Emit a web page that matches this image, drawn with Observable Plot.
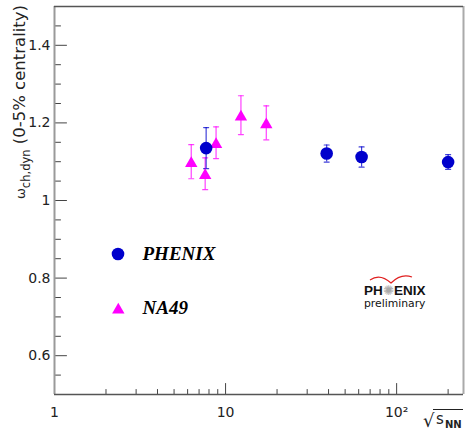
<!DOCTYPE html>
<html><head><meta charset="utf-8">
<script src="https://cdn.jsdelivr.net/npm/d3@7"></script>
<script src="https://cdn.jsdelivr.net/npm/@observablehq/plot@0.6"></script>
<style>body{margin:0;background:#fff} svg{display:block}</style>
</head><body><div id="chart"></div>
<script>
// ---- data ----
const phenixEnergy = [7.7, 39, 62.4, 200];
const phenixOmega  = [1.135, 1.121, 1.112, 1.099];
const phenixErr    = [0.053, 0.022, 0.026, 0.019];
const na49Energy = [6.3, 7.6, 8.8, 12.3, 17.3];
const na49Omega  = [1.100, 1.069, 1.149, 1.220, 1.200];
const na49Err    = [0.044, 0.041, 0.041, 0.050, 0.044];
const yMajorTicks = [0.6, 0.8, 1.0, 1.2, 1.4];
const yTickLabels = ["0.6", "0.8", "1", "1.2", "1.4"];
const yMinorTicks = [0.55, 0.65, 0.7, 0.75, 0.85, 0.9, 0.95, 1.05, 1.1, 1.15, 1.25, 1.3, 1.35, 1.45];
const xMajorTicks = [1, 10, 100];
const xTickLabels = ["1", "10", "10²"];
const xMinorTicks = [2, 3, 4, 5, 6, 7, 8, 9, 20, 30, 40, 50, 60, 70, 80, 90, 200];
const legendLabels = ["PHENIX", "NA49"];
const xDomain = [1, 246];
const yDomain = [0.5, 1.5];

const phenix = phenixEnergy.map((e, i) => ({e, w: phenixOmega[i], err: phenixErr[i]}));
const na49 = na49Energy.map((e, i) => ({e, w: na49Omega[i], err: na49Err[i]}));

const blue = "#0000cc", magenta = "#ff00ff";
const font = "DejaVu Sans";
const lineShape = {draw(ctx, l) { ctx.moveTo(0, 0); ctx.lineTo(0, -l); }};

function errorMarks(data, color) {
  return [
    Plot.ruleX(data, {x: "e", y1: d => d.w - d.err, y2: d => d.w + d.err, stroke: color, strokeWidth: 1.2, strokeOpacity: 0.75}),
    Plot.vector(data, {x: "e", y: d => d.w - d.err, length: 5, rotate: 90, anchor: "middle", shape: lineShape, stroke: color, strokeWidth: 1.2, strokeOpacity: 0.75}),
    Plot.vector(data, {x: "e", y: d => d.w + d.err, length: 5, rotate: 90, anchor: "middle", shape: lineShape, stroke: color, strokeWidth: 1.2, strokeOpacity: 0.75})
  ];
}

const plot = Plot.plot({
  width: 467, height: 437,
  marginLeft: 54, marginRight: 4, marginTop: 6, marginBottom: 43,
  style: {background: "#fff", overflow: "visible"},
  x: {type: "log", domain: xDomain, axis: null},
  y: {domain: yDomain, axis: null},
  marks: [
    // ticks (inward)
    Plot.vector(yMajorTicks, {frameAnchor: "left", y: d => d, length: 12, rotate: 90, anchor: "start", shape: lineShape, stroke: "#444", strokeWidth: 1}),
    Plot.vector(yMinorTicks, {frameAnchor: "left", y: d => d, length: 6, rotate: 90, anchor: "start", shape: lineShape, stroke: "#444", strokeWidth: 1}),
    Plot.vector(xMajorTicks, {frameAnchor: "bottom", x: d => d, length: 11, rotate: 0, anchor: "start", shape: lineShape, stroke: "#444", strokeWidth: 1}),
    Plot.vector(xMinorTicks, {frameAnchor: "bottom", x: d => d, length: 5, rotate: 0, anchor: "start", shape: lineShape, stroke: "#444", strokeWidth: 1}),
    // frame
    Plot.ruleX([xDomain[0]], {stroke: "#9a9a9a", strokeWidth: 2}),
    Plot.ruleX([xDomain[1]], {stroke: "#aaaaaa", strokeWidth: 2}),
    Plot.ruleY([yDomain[0]], {stroke: "#555", strokeWidth: 1.3}),
    Plot.ruleY([yDomain[1]], {stroke: "#555", strokeWidth: 1.3}),
    // tick labels
    Plot.text(yMajorTicks, {frameAnchor: "left", y: d => d, text: (d, i) => yTickLabels[i], dx: -4, textAnchor: "end", fontSize: 14, fontFamily: font, fill: "#222"}),
    Plot.text(xMajorTicks, {frameAnchor: "bottom", x: d => d, text: (d, i) => xTickLabels[i], dy: 22, lineAnchor: "bottom", textAnchor: "middle", fontSize: 14, fontFamily: font, fill: "#222"}),
    // data
    ...errorMarks(na49, magenta),
    ...errorMarks(phenix, blue),
    Plot.dot(na49, {x: "e", y: "w", symbol: "triangle", r: 4.6, dy: 1.8, fill: magenta, stroke: "none"}),
    Plot.dot(phenix, {x: "e", y: "w", r: 6.3, fill: blue, stroke: "none"}),
    // legend
    Plot.dot([0], {frameAnchor: "top-left", dx: 63.5, dy: 247.5, r: 6.3, fill: blue, stroke: "none"}),
    Plot.dot([0], {frameAnchor: "top-left", dx: 63.8, dy: 303.3, symbol: "triangle", r: 4.6, fill: magenta, stroke: "none"}),
    Plot.text([legendLabels[0]], {frameAnchor: "top-left", dx: 88, dy: 253.5, text: d => d, textAnchor: "start", lineAnchor: "bottom", fontSize: 19, fontFamily: "Liberation Serif", fontWeight: "bold", fontStyle: "italic", fill: "#000"}),
    Plot.text([legendLabels[1]], {frameAnchor: "top-left", dx: 88, dy: 307.5, text: d => d, textAnchor: "start", lineAnchor: "bottom", fontSize: 19, fontFamily: "Liberation Serif", fontWeight: "bold", fontStyle: "italic", fill: "#000"})
  ]
});

document.getElementById("chart").appendChild(plot);
const svg = d3.select(plot);

// y-axis title
const yt = svg.append("text").attr("transform", "translate(25,5) rotate(-90)")
  .attr("text-anchor", "end").attr("font-family", font).attr("fill", "#222");
yt.append("tspan").attr("font-size", 13).text("ω");
yt.append("tspan").attr("font-size", 11.5).attr("dy", 5).text("ch,dyn");
yt.append("tspan").attr("font-size", 16.5).attr("dy", -5).text(" (0-5% centrality)");

// x-axis title  √s_NN
const xt = svg.append("g").attr("font-family", font).attr("fill", "#222").attr("text-anchor", "start");
xt.append("text").attr("x", 423).attr("y", 427).attr("font-size", 18).text("√");
xt.append("line").attr("x1", 433).attr("x2", 463).attr("y1", 409.5).attr("y2", 409.5).attr("stroke", "#222").attr("stroke-width", 1);
xt.append("text").attr("x", 436).attr("y", 424).attr("font-size", 15).text("s");
xt.append("text").attr("x", 445).attr("y", 428).attr("font-size", 10).attr("font-weight", "bold").text("NN");

// PHENIX preliminary logo
const logo = svg.append("g").attr("text-anchor", "start");
logo.append("path").attr("d", "M370,280 Q380,273 391,283 Q401,273 412,277")
  .attr("fill", "none").attr("stroke", "#e02020").attr("stroke-width", 1.2);
const lt = logo.append("text").attr("x", 364).attr("y", 294.5).attr("font-family", "Liberation Sans")
  .attr("font-weight", "bold").attr("font-size", 13.5).attr("fill", "#111");
lt.append("tspan").text("PH");
lt.append("tspan").attr("fill", "#aaa").attr("font-family", font).attr("font-weight", "normal").text("✺");
lt.append("tspan").text("ENIX");
logo.append("text").attr("x", 364).attr("y", 306.5).attr("font-family", font)
  .attr("font-size", 10.8).attr("fill", "#111").text("preliminary");
</script>
</body></html>
